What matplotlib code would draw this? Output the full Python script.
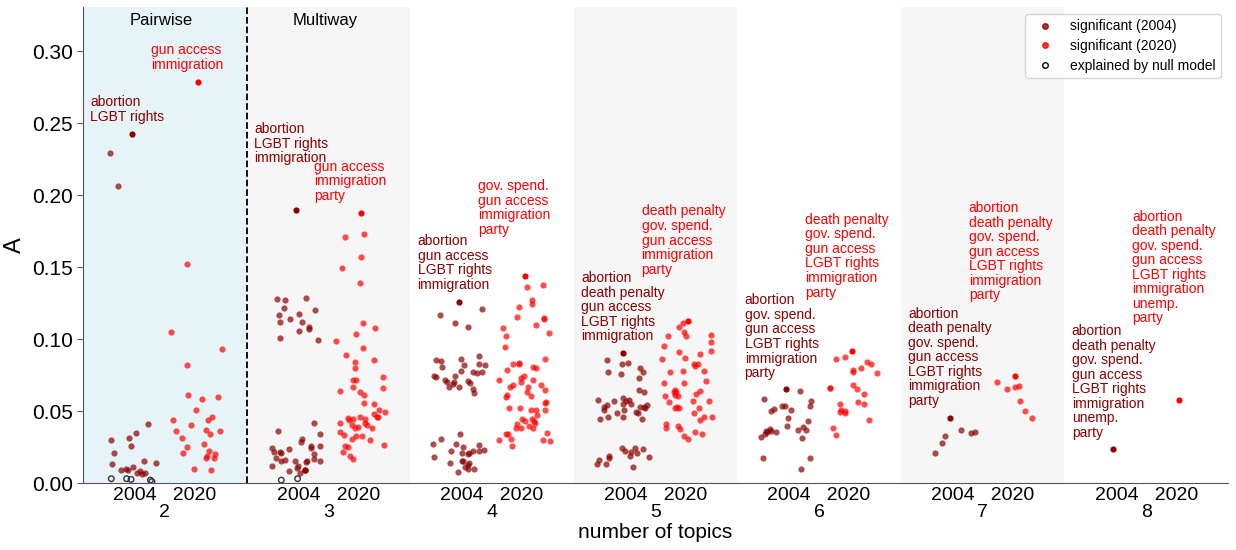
import numpy as np
import matplotlib
matplotlib.use('Agg')
import matplotlib.pyplot as plt
from matplotlib.lines import Line2D

plt.rcParams['font.family'] = ['Liberation Sans', 'DejaVu Sans']

# number of topics in each interaction
n_topics = [2, 3, 4, 5, 6, 7, 8]

# significant interaction strengths, one list per number of topics
sig_2004 = [
    [0.2426, 0.229, 0.2065, 0.041, 0.035, 0.030, 0.031, 0.026, 0.021, 0.015, 0.013,
     0.010, 0.011, 0.009, 0.0067, 0.0067, 0.0137, 0.0087, 0.008, 0.006],
    [0.1896, 0.1276, 0.1285, 0.1273, 0.1204, 0.1217, 0.1176, 0.1139, 0.1119, 0.1118,
     0.1167, 0.1067, 0.1083, 0.1056, 0.0995, 0.1007, 0.0415, 0.0359, 0.0338, 0.0306,
     0.0283, 0.0257, 0.0257, 0.0243, 0.0245, 0.0236, 0.0213, 0.0215, 0.0206, 0.0202,
     0.0174, 0.0161, 0.0155, 0.017, 0.0155, 0.0155, 0.0152, 0.012, 0.0148, 0.012,
     0.009, 0.0085, 0.0067, 0.0087, 0.0088, 0.0104],
    [0.1257, 0.121, 0.1164, 0.1109, 0.1086, 0.0824, 0.082, 0.0847, 0.0861, 0.0882,
     0.0852, 0.0819, 0.0806, 0.0771, 0.0771, 0.078, 0.0743, 0.0738, 0.0743, 0.0766,
     0.0715, 0.0709, 0.0699, 0.0699, 0.0694, 0.0667, 0.0688, 0.0655, 0.0667, 0.0623,
     0.0342, 0.0303, 0.0271, 0.0262, 0.0248, 0.0231, 0.0273, 0.0222, 0.022, 0.0206,
     0.0206, 0.0199, 0.0222, 0.0141, 0.0155, 0.0151, 0.0125, 0.0137, 0.0097, 0.0109,
     0.01, 0.0078, 0.0183],
    [0.0901, 0.0853, 0.0835, 0.0824, 0.0797, 0.0773, 0.0769, 0.0755, 0.0727, 0.0649,
     0.0632, 0.0588, 0.0576, 0.0572, 0.0542, 0.0549, 0.0521, 0.0526, 0.0576, 0.0549,
     0.0572, 0.0507, 0.053, 0.0484, 0.054, 0.0507, 0.0484, 0.0456, 0.053, 0.0493,
     0.0442, 0.0456, 0.0442, 0.0245, 0.0217, 0.021, 0.0191, 0.0243, 0.0222, 0.0172,
     0.013, 0.0182, 0.0129, 0.0113, 0.0234, 0.0188, 0.016],
    [0.065, 0.0641, 0.0581, 0.0569, 0.0537, 0.0533, 0.0533, 0.0516, 0.0504, 0.05,
     0.0451, 0.0433, 0.0393, 0.0386, 0.0373, 0.0368, 0.0354, 0.0361, 0.0368, 0.0354,
     0.0363, 0.034, 0.0313, 0.0322, 0.0175, 0.0173, 0.01],
    [0.0451, 0.0366, 0.0329, 0.0281, 0.0354, 0.035, 0.0211],
    [0.0234],
]

sig_2020 = [
    [0.2785, 0.152, 0.105, 0.093, 0.082, 0.061, 0.060, 0.058, 0.051, 0.046, 0.044,
     0.044, 0.040, 0.036, 0.037, 0.036, 0.0315, 0.027, 0.025, 0.034, 0.0225, 0.021,
     0.020, 0.0176, 0.019, 0.0176, 0.0097, 0.0088],
    [0.1875, 0.1727, 0.1708, 0.1567, 0.1495, 0.1387, 0.1111, 0.1079, 0.1035, 0.0988,
     0.0935, 0.0889, 0.0854, 0.084, 0.0801, 0.0738, 0.0713, 0.0718, 0.0665, 0.063,
     0.0639, 0.0609, 0.0658, 0.0556, 0.0546, 0.0495, 0.0509, 0.0481, 0.0458, 0.0458,
     0.0449, 0.0458, 0.0444, 0.0440, 0.0443, 0.0405, 0.0405, 0.0415, 0.0418, 0.0387,
     0.038, 0.038, 0.0356, 0.0333, 0.0326, 0.0325, 0.0297, 0.0305, 0.0259, 0.0262,
     0.025, 0.0213, 0.0189, 0.0167],
    [0.144, 0.136, 0.1377, 0.127, 0.124, 0.122, 0.1155, 0.110, 0.1074, 0.1137, 0.1146,
     0.104, 0.1019, 0.0947, 0.0859, 0.0831, 0.0829, 0.0826, 0.0806, 0.0782, 0.0745,
     0.0715, 0.0799, 0.0715, 0.0683, 0.073, 0.070, 0.0664, 0.0683, 0.0646, 0.0667,
     0.0632, 0.0613, 0.0604, 0.0562, 0.0553, 0.0597, 0.0507, 0.051, 0.052, 0.052,
     0.0507, 0.0472, 0.0442, 0.0442, 0.0433, 0.041, 0.038, 0.0395, 0.042, 0.0431,
     0.0385, 0.038, 0.035, 0.034, 0.034, 0.0299, 0.0299, 0.0294, 0.0303, 0.0257],
    [0.1123, 0.1113, 0.1081, 0.1023, 0.1048, 0.1025, 0.1018, 0.098, 0.0952, 0.0914,
     0.0912, 0.0898, 0.0863, 0.0866, 0.0829, 0.081, 0.078, 0.0771, 0.0778, 0.0824,
     0.0694, 0.0708, 0.0694, 0.0648, 0.0629, 0.062, 0.0604, 0.0611, 0.0604, 0.0629,
     0.0636, 0.0572, 0.057, 0.0523, 0.053, 0.0523, 0.056, 0.0523, 0.0486, 0.044,
     0.0398, 0.0377, 0.0458, 0.0456, 0.0412, 0.0384, 0.0342, 0.0308, 0.0324, 0.0351],
    [0.0914, 0.0873, 0.0859, 0.0829, 0.0838, 0.0801, 0.0782, 0.0769, 0.0764, 0.0683,
     0.0657, 0.066, 0.0655, 0.0615, 0.0565, 0.0549, 0.0507, 0.05, 0.0549, 0.0486,
     0.049, 0.0435, 0.0382, 0.0335],
    [0.0745, 0.0704, 0.0666, 0.0674, 0.0653, 0.0567, 0.0502, 0.0454],
    [0.0574],
]

# interactions explained by the null model (2004 only)
null_2004 = [
    [0.001, 0.003, 0.002, 0.003, 0.0025],
    [0.002, 0.003],
    [], [], [], [], [],
]

# topics of the strongest interaction
top_2004 = [
    "abortion\nLGBT rights",
    "abortion\nLGBT rights\nimmigration",
    "abortion\ngun access\nLGBT rights\nimmigration",
    "abortion\ndeath penalty\ngun access\nLGBT rights\nimmigration",
    "abortion\ngov. spend.\ngun access\nLGBT rights\nimmigration\nparty",
    "abortion\ndeath penalty\ngov. spend.\ngun access\nLGBT rights\nimmigration\nparty",
    "abortion\ndeath penalty\ngov. spend.\ngun access\nLGBT rights\nimmigration\nunemp.\nparty",
]
top_2020 = [
    "gun access\nimmigration",
    "gun access\nimmigration\nparty",
    "gov. spend.\ngun access\nimmigration\nparty",
    "death penalty\ngov. spend.\ngun access\nimmigration\nparty",
    "death penalty\ngov. spend.\ngun access\nLGBT rights\nimmigration\nparty",
    "abortion\ndeath penalty\ngov. spend.\ngun access\nLGBT rights\nimmigration\nparty",
    "abortion\ndeath penalty\ngov. spend.\ngun access\nLGBT rights\nimmigration\nunemp.\nparty",
]

# vertical gap between the strongest point and its label
gap_2004 = [0.007, 0.031, 0.007, 0.007, 0.0065, 0.007, 0.0065]
gap_2020 = [0.007, 0.007, 0.027, 0.031, 0.036, 0.051, 0.052]

c04 = '#8b0000'
c20 = '#ff0000'
dx = 0.2
jit = 0.16
rng = np.random.default_rng(3)

fig = plt.figure(figsize=(12.36, 5.5), dpi=100)
ax = fig.add_axes([0.0672, 0.1218, 0.9263, 0.8655])

ax.set_xlim(-0.5, len(n_topics) - 0.5)
ax.set_ylim(0, 0.3306)

# shaded columns
ax.axvspan(-0.5, 0.5, color='lightblue', alpha=0.3, lw=0, zorder=0)
for i in [1, 3, 5]:
    ax.axvspan(i - 0.5, i + 0.5, color='lightgray', alpha=0.2, lw=0, zorder=0)
ax.axvline(0.5, color='black', ls='--', lw=1.3, zorder=1)
ax.text(-0.02, 0.3215, 'Pairwise', ha='center', va='center', fontsize=12)
ax.text(0.98, 0.3215, 'Multiway', ha='center', va='center', fontsize=12)

for i in range(len(n_topics)):
    for vals, off, col, lab, gap, lx in [
            (sig_2004[i], -dx, c04, top_2004[i], gap_2004[i], -0.255),
            (sig_2020[i], dx, c20, top_2020[i], gap_2020[i], -0.285)]:
        v = np.array(vals)
        k = np.argmax(v)
        rest = np.delete(v, k)
        xs = i + off + rng.uniform(-jit, jit, len(rest))
        ax.scatter(xs, rest, s=20, color=col, alpha=0.7, lw=0, zorder=3)
        ax.scatter([i + off], [v[k]], s=20, color=col, lw=0, zorder=4)
        ax.text(i + off + lx, v[k] + gap, lab, color=col, fontsize=10,
                ha='left', va='bottom', linespacing=1.05, zorder=5)
    if null_2004[i]:
        nv = np.array(null_2004[i])
        xs = i - dx + rng.uniform(-jit, jit, len(nv))
        ax.scatter(xs, nv, s=16, facecolors='none', edgecolors='#333333',
                   lw=1.0, zorder=3)

ax.set_xticks(range(len(n_topics)))
ax.set_xticklabels(['2004   2020\n%d' % n for n in n_topics], fontsize=14,
                   linespacing=1.0)
ax.tick_params(axis='x', length=0, pad=3)
ax.tick_params(axis='y', labelsize=15, length=4, color='#555555')
ax.set_yticks([0, 0.05, 0.1, 0.15, 0.2, 0.25, 0.3])
ax.set_xlabel('number of topics', fontsize=15, labelpad=1)
ax.set_ylabel('A', fontsize=17, labelpad=4)

for s in ['top', 'right']:
    ax.spines[s].set_visible(False)
for s in ['left', 'bottom']:
    ax.spines[s].set_color('#555555')

handles = [
    Line2D([], [], ls='', marker='o', ms=4, color=c04, alpha=0.8),
    Line2D([], [], ls='', marker='o', ms=4, color=c20, alpha=0.8),
    Line2D([], [], ls='', marker='o', ms=4, mfc='none', mec='black'),
]
ax.legend(handles, ['significant (2004)', 'significant (2020)', 'explained by null model'],
          loc='upper right', fontsize=10, frameon=True, borderpad=0.4,
          labelspacing=0.4, bbox_to_anchor=(1.0, 1.0))

fig.savefig('out.png', dpi=100)
